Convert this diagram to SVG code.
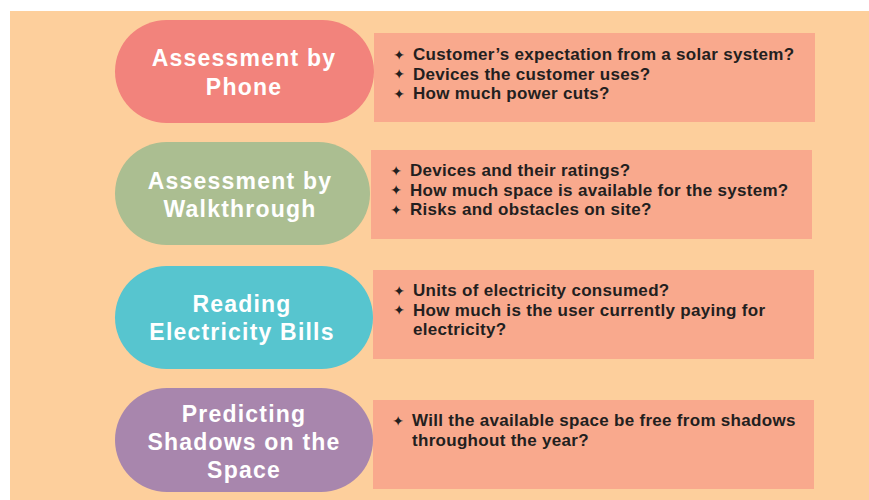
<svg xmlns="http://www.w3.org/2000/svg" width="869" height="500" viewBox="0 0 869 500">
<style>
.pill text{font-family:"Liberation Sans",Arial,sans-serif;font-weight:bold;font-size:23px;fill:#ffffff;text-anchor:middle;letter-spacing:1.2px}
.box rect{fill:#F9A98D}
.box text{font-family:"Liberation Sans",Arial,sans-serif;font-weight:bold;font-size:17px;fill:#231F20;letter-spacing:0.3px}
.box text.b{font-family:"DejaVu Sans",sans-serif;font-size:14px;text-anchor:middle;letter-spacing:0}
</style>
<rect x="0" y="0" width="869" height="500" fill="#ffffff"/>
<rect x="10" y="11" width="859" height="489" fill="#FDCF9C"/>
<g id="connectors"></g>
<g id="box1" class="box">
<rect x="374" y="33" width="441" height="89"/>
<text class="b" x="399" y="59.5">✦</text><text x="413" y="60">Customer’s expectation from a solar system?</text>
<text class="b" x="399" y="79">✦</text><text x="413" y="79.5">Devices the customer uses?</text>
<text class="b" x="399" y="98.5">✦</text><text x="413" y="99">How much power cuts?</text>
</g>
<g id="pill1" class="pill">
<rect x="115" y="20" width="259" height="103" rx="51.5" fill="#F2837C"/>
<text x="244" y="66">Assessment by</text>
<text x="244" y="95">Phone</text>
</g>
<g id="box2" class="box">
<rect x="371" y="150" width="441" height="89"/>
<text class="b" x="396" y="175.5">✦</text><text x="410" y="176">Devices and their ratings?</text>
<text class="b" x="396" y="195">✦</text><text x="410" y="195.5">How much space is available for the system?</text>
<text class="b" x="396" y="214.5">✦</text><text x="410" y="215">Risks and obstacles on site?</text>
</g>
<g id="pill2" class="pill">
<rect x="115" y="142" width="255" height="103" rx="51.5" fill="#ABBE91"/>
<text x="240" y="189">Assessment by</text>
<text x="240" y="217">Walkthrough</text>
</g>
<g id="box3" class="box">
<rect x="373" y="270" width="441" height="89"/>
<text class="b" x="399" y="295.5">✦</text><text x="413" y="296">Units of electricity consumed?</text>
<text class="b" x="399" y="315">✦</text><text x="413" y="315.5">How much is the user currently paying for</text>
<text x="413" y="335">electricity?</text>
</g>
<g id="pill3" class="pill">
<rect x="115" y="266" width="258" height="103" rx="51.5" fill="#57C5CF"/>
<text x="242" y="312">Reading</text>
<text x="242" y="340">Electricity Bills</text>
</g>
<g id="box4" class="box">
<rect x="373" y="400" width="441" height="89"/>
<text class="b" x="398" y="425.5">✦</text><text x="412" y="426">Will the available space be free from shadows</text>
<text x="412" y="445.5">throughout the year?</text>
</g>
<g id="pill4" class="pill">
<rect x="115" y="388" width="258" height="104" rx="52" fill="#A886AD"/>
<text x="244" y="422">Predicting</text>
<text x="244" y="450">Shadows on the</text>
<text x="244" y="478">Space</text>
</g>
</svg>
